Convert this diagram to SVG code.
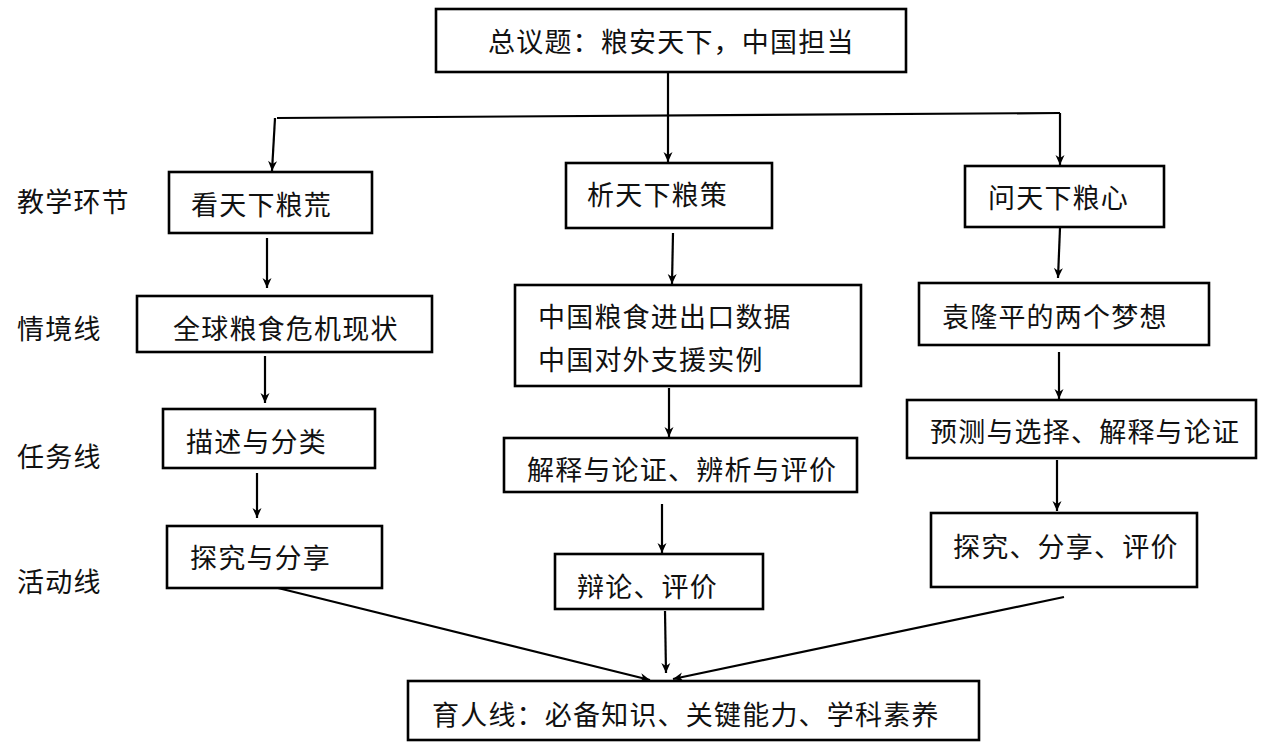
<svg xmlns="http://www.w3.org/2000/svg" width="1263" height="747" viewBox="0 0 1263 747">
<style>
.box{fill:#fff;stroke:#000;stroke-width:2.6}
.t{font-family:"Noto Sans CJK SC","Noto Sans",sans-serif;font-size:27px;fill:#111;letter-spacing:1.2px}
.c{fill:none;stroke:#000;stroke-width:2.2}
</style>
<defs>
<marker id="ah" viewBox="0 0 12 12" refX="11" refY="6" markerWidth="12" markerHeight="12" markerUnits="userSpaceOnUse" orient="auto">
<path d="M1,1.5 L11,6 L1,10.5 L4,6 Z" fill="#000"/>
</marker>
</defs>
<rect width="1263" height="747" fill="#fff"/>
<g id="labels">
<text class="t" x="17" y="212">教学环节</text>
<text class="t" x="17" y="339">情境线</text>
<text class="t" x="17" y="467">任务线</text>
<text class="t" x="17" y="592">活动线</text>
</g>
<g id="connectors">
<line class="c" x1="668" y1="73" x2="668" y2="162" marker-end="url(#ah)"/>
<polyline class="c" points="277,118 1060,113"/>
<line class="c" x1="275" y1="118" x2="272" y2="171" marker-end="url(#ah)"/>
<line class="c" x1="1060" y1="113" x2="1060" y2="165" marker-end="url(#ah)"/>
<line class="c" x1="267" y1="238" x2="267" y2="288" marker-end="url(#ah)"/>
<line class="c" x1="265" y1="356" x2="265" y2="403" marker-end="url(#ah)"/>
<line class="c" x1="257" y1="473" x2="257" y2="518" marker-end="url(#ah)"/>
<line class="c" x1="673" y1="233" x2="672" y2="284" marker-end="url(#ah)"/>
<line class="c" x1="669" y1="388" x2="669" y2="437" marker-end="url(#ah)"/>
<line class="c" x1="662" y1="504" x2="662" y2="553" marker-end="url(#ah)"/>
<line class="c" x1="1060" y1="228" x2="1058" y2="278" marker-end="url(#ah)"/>
<line class="c" x1="1059" y1="352" x2="1059" y2="399" marker-end="url(#ah)"/>
<line class="c" x1="1057" y1="460" x2="1057" y2="511" marker-end="url(#ah)"/>
<line class="c" x1="278" y1="588" x2="650" y2="680" marker-end="url(#ah)"/>
<line class="c" x1="665" y1="611" x2="666" y2="673" marker-end="url(#ah)"/>
<line class="c" x1="1064" y1="597" x2="673" y2="679" marker-end="url(#ah)"/>
</g>
<g id="n-top"><rect class="box" x="436" y="9" width="470" height="63"/><text class="t" x="488" y="52">总议题：粮安天下，中国担当</text></g>
<g id="n-kan"><rect class="box" x="169" y="172" width="203" height="61"/><text class="t" x="191" y="215">看天下粮荒</text></g>
<g id="n-xi"><rect class="box" x="566" y="163" width="206" height="65"/><text class="t" x="587" y="205">析天下粮策</text></g>
<g id="n-wen"><rect class="box" x="965" y="166" width="199" height="61"/><text class="t" x="988" y="208">问天下粮心</text></g>
<g id="n-quanqiu"><rect class="box" x="137" y="296" width="295" height="56"/><text class="t" x="173" y="339">全球粮食危机现状</text></g>
<g id="n-zhongguo"><rect class="box" x="515" y="285" width="346" height="101"/><text class="t" x="538" y="327">中国粮食进出口数据</text><text class="t" x="538" y="370">中国对外支援实例</text></g>
<g id="n-yuan"><rect class="box" x="919" y="283" width="290" height="62"/><text class="t" x="942" y="327">袁隆平的两个梦想</text></g>
<g id="n-miaoshu"><rect class="box" x="163" y="409" width="212" height="59"/><text class="t" x="186" y="452">描述与分类</text></g>
<g id="n-jieshi"><rect class="box" x="504" y="438" width="353" height="54"/><text class="t" x="527" y="480">解释与论证、辨析与评价</text></g>
<g id="n-yuce"><rect class="box" x="907" y="400" width="349" height="58"/><text class="t" x="930" y="442">预测与选择、解释与论证</text></g>
<g id="n-tanjiu"><rect class="box" x="167" y="526" width="215" height="62"/><text class="t" x="190" y="568">探究与分享</text></g>
<g id="n-bianlun"><rect class="box" x="555" y="554" width="208" height="55"/><text class="t" x="577" y="597">辩论、评价</text></g>
<g id="n-tanjiu2"><rect class="box" x="931" y="513" width="266" height="74"/><text class="t" x="953" y="557">探究、分享、评价</text></g>
<g id="n-yuren"><rect class="box" x="408" y="681" width="571" height="59"/><text class="t" x="432" y="725">育人线：必备知识、关键能力、学科素养</text></g>
</svg>
